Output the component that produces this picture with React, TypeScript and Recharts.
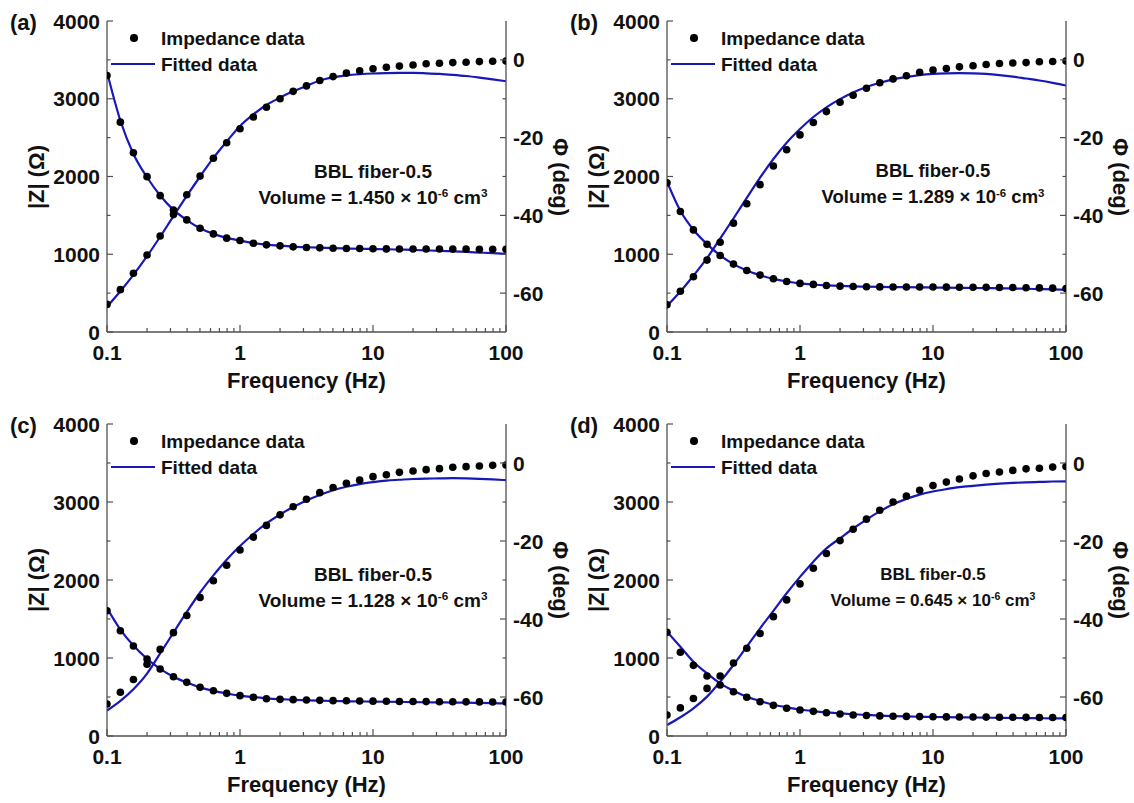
import React from "react";
import { ComposedChart, XAxis, YAxis, Scatter, Line } from "recharts";

// frequency grid, 10 points per decade (Hz)
const freq = [
  0.1, 0.126, 0.158, 0.2, 0.251, 0.316, 0.398, 0.501, 0.631, 0.794,
  1, 1.26, 1.58, 2, 2.51, 3.16, 3.98, 5.01, 6.31, 7.94,
  10, 12.6, 15.8, 20, 25.1, 31.6, 39.8, 50.1, 63.1, 79.4, 100,
];

// (a) volume 1.450
const zA = [3300, 2699, 2306, 1998, 1754, 1570, 1442, 1335, 1262, 1207, 1176, 1142, 1121, 1108, 1095, 1087, 1082, 1078, 1074, 1074, 1070, 1069, 1068, 1068, 1067, 1067, 1066, 1066, 1065, 1065, 1065];
const zFitA = [3345, 2720, 2290, 1990, 1755, 1570, 1440, 1335, 1262, 1210, 1175, 1145, 1125, 1110, 1098, 1090, 1084, 1079, 1075, 1071, 1068, 1064, 1060, 1055, 1050, 1044, 1037, 1030, 1022, 1014, 1005];
const phA = [-62.9, -59.1, -54.9, -50.2, -45.3, -39.8, -34.7, -29.9, -25.3, -21.3, -17.7, -14.7, -12.2, -10.0, -8.1, -6.7, -5.3, -4.3, -3.4, -2.8, -2.3, -1.9, -1.6, -1.3, -1.0, -0.86, -0.7, -0.6, -0.45, -0.35, -0.3];
const phFitA = [-63.5, -59.5, -55.3, -50.5, -45.5, -40.2, -35.0, -30.0, -25.2, -21.0, -17.0, -14.0, -11.6, -9.7, -8.1, -6.7, -5.3, -4.5, -4.0, -3.7, -3.5, -3.4, -3.35, -3.35, -3.45, -3.6, -3.85, -4.15, -4.55, -5.0, -5.5];

// (b) volume 1.289
const zB = [1920, 1549, 1313, 1129, 984, 873, 791, 732, 684, 650, 625, 612, 599, 590, 586, 582, 580, 579, 578, 578, 578, 577, 576, 575, 574, 573, 572, 570, 567, 564, 560];
const zFitB = [1934, 1560, 1315, 1130, 985, 873, 790, 730, 683, 650, 626, 611, 600, 592, 587, 583, 580, 578, 576, 574, 572, 570, 568, 566, 564, 562, 559, 556, 552, 548, 543];
const phB = [-63, -59.5, -55.8, -51.5, -46.9, -42.0, -37.0, -32.1, -27.3, -23.1, -19.3, -16.1, -13.3, -10.9, -9.1, -7.3, -5.9, -4.9, -4.1, -3.2, -2.6, -2.2, -1.8, -1.5, -1.2, -0.95, -0.8, -0.7, -0.5, -0.4, -0.3];
const phFitB = [-63.3, -59.6, -55.5, -51.0, -46.0, -40.8, -35.5, -30.3, -25.5, -21.3, -17.8, -14.7, -12.2, -10.1, -8.4, -7.0, -5.9, -5.0, -4.4, -3.9, -3.6, -3.45, -3.4, -3.45, -3.6, -3.9, -4.3, -4.8, -5.3, -5.9, -6.6];

// (c) volume 1.128
const zC = [1606, 1350, 1154, 987, 859, 760, 688, 624, 581, 547, 517, 496, 478, 470, 466, 461, 457, 453, 451, 448, 447, 445, 443, 442, 441, 440, 439, 438, 437, 436, 435];
const zFitC = [1640, 1365, 1160, 990, 860, 760, 685, 623, 578, 545, 518, 498, 483, 472, 464, 458, 453, 449, 446, 443, 441, 439, 437, 435, 433, 431, 429, 427, 424, 421, 418];
const phC = [-61.8, -58.8, -55.5, -51.6, -47.8, -43.5, -39.1, -34.5, -30.2, -26.2, -22.3, -19.0, -16.0, -13.3, -11.2, -9.3, -7.6, -6.3, -5.2, -4.4, -3.5, -3.0, -2.4, -2.05, -1.7, -1.45, -1.1, -0.94, -0.77, -0.6, -0.5];
const phFitC = [-63.5, -61.0, -58.0, -54.0, -48.8, -43.5, -38.2, -33.2, -28.8, -24.8, -21.3, -18.2, -15.5, -13.2, -11.3, -9.6, -8.2, -7.0, -6.1, -5.4, -4.9, -4.5, -4.3, -4.1, -4.0, -3.95, -3.9, -3.95, -4.05, -4.2, -4.4];

// (d) volume 0.645
const zD = [1330, 1073, 906, 769, 654, 568, 496, 440, 393, 355, 333, 316, 299, 282, 270, 263, 258, 254, 251, 249, 247, 245, 244, 243, 242, 241, 240, 239, 238, 238, 237];
const zFitD = [1337, 1145, 953, 803, 675, 581, 504, 449, 401, 368, 340, 320, 304, 291, 279, 270, 262, 256, 251, 247, 244, 241, 239, 237, 235, 233, 231, 230, 228, 226, 225];
const phD = [-64.6, -62.8, -60.4, -57.8, -54.6, -51.3, -47.5, -43.7, -39.4, -35.1, -31.0, -27.0, -23.2, -19.9, -17.0, -14.4, -12.1, -10.0, -8.5, -7.0, -5.8, -4.9, -4.1, -3.3, -2.7, -2.3, -1.9, -1.5, -1.35, -1.05, -0.9];
const phFitD = [-67.2, -65.2, -62.9, -59.9, -56.1, -51.8, -47.1, -42.4, -37.9, -33.4, -29.2, -25.3, -21.9, -19.3, -16.8, -14.5, -12.4, -10.6, -9.2, -8.1, -7.3, -6.7, -6.2, -5.85, -5.55, -5.3, -5.1, -4.95, -4.85, -4.75, -4.7];

// ticks
const fTicks = [0.1, 0.2, 0.3, 0.4, 0.5, 0.6, 0.7, 0.8, 0.9, 1, 2, 3, 4, 5, 6, 7, 8, 9, 10, 20, 30, 40, 50, 60, 70, 80, 90, 100];
const fMajor = [0.1, 1, 10, 100];
const zTicks = [0, 500, 1000, 1500, 2000, 2500, 3000, 3500, 4000];
const zMajor = [0, 1000, 2000, 3000, 4000];
const phTicks = [-60, -50, -40, -30, -20, -10, 0];
const phMajor = [-60, -40, -20, 0];

const FONT = '"Liberation Sans", Arial, sans-serif';
const AXIS = "#505050";
const BLUE = "#1818b8";
const CHART_W = 574;
const PLOT_LEFT = 107;
const PLOT_W = 399;

function AxisTick(props: any) {
  const { x, y, payload, side, majors, gap } = props;
  const v = Number(payload.value);
  const major = majors.some((m: number) => Math.abs(m - v) < 1e-6 * Math.max(1, Math.abs(m)));
  const len = major ? 6 : 3.5;
  const ts = { fontFamily: FONT, fontWeight: 700, fontSize: 21, fill: "#111" };
  if (side === "left") {
    const ax = x + gap;
    return (
      <g>
        <line x1={ax} x2={ax + len} y1={y} y2={y} stroke={AXIS} strokeWidth={1.2} />
        {major && <text x={x} y={y} textAnchor="end" dominantBaseline="central" style={ts}>{v}</text>}
      </g>
    );
  }
  if (side === "right") {
    const ax = x - gap;
    return (
      <g>
        <line x1={ax} x2={ax - len} y1={y} y2={y} stroke={AXIS} strokeWidth={1.2} />
        {major && <text x={x} y={y} textAnchor="start" dominantBaseline="central" style={ts}>{v}</text>}
      </g>
    );
  }
  const ay = y - gap;
  return (
    <g>
      <line x1={x} x2={x} y1={ay} y2={ay - (major ? 7 : 4)} stroke={AXIS} strokeWidth={1.2} />
      {major && <text x={x} y={y} textAnchor="middle" dominantBaseline="central" style={ts}>{v}</text>}
    </g>
  );
}

const dot = (p: any) => <circle cx={p.cx} cy={p.cy} r={3.8} fill="#000" />;

interface PanelProps {
  letter: string;
  volume: string;
  z: number[];
  zFit: number[];
  ph: number[];
  phFit: number[];
  left: number;
  top: number;
  height: number;
  marginTop: number;
  plotH: number;
  noteSize: number;
}

function Panel({ letter, volume, z, zFit, ph, phFit, left, top, height, marginTop, plotH, noteSize }: PanelProps) {
  const rows = freq.map((f, i) => ({ f, z: z[i], zFit: zFit[i], ph: ph[i], phFit: phFit[i] }));
  const plotRight = PLOT_LEFT + PLOT_W;
  const midY = marginTop + plotH / 2;
  const abs = { position: "absolute" as const, whiteSpace: "nowrap" as const, lineHeight: 1 };
  return (
    <div style={{ position: "absolute", left, top, width: CHART_W, height, fontFamily: FONT, fontWeight: 700, color: "#111" }}>
      <ComposedChart width={CHART_W} height={height} data={rows} margin={{ top: marginTop, right: 0, bottom: 0, left: 0 }}>
        <XAxis
          dataKey="f"
          type="number"
          scale="log"
          domain={[0.1, 100]}
          allowDataOverflow
          ticks={fTicks}
          interval={0}
          tickSize={0}
          tickMargin={20}
          tickLine={false}
          axisLine={{ stroke: AXIS, strokeWidth: 1.3 }}
          height={height - marginTop - plotH}
          tick={<AxisTick side="bottom" majors={fMajor} gap={20} />}
        />
        <XAxis
          xAxisId="top"
          orientation="top"
          type="number"
          scale="log"
          domain={[0.1, 100]}
          allowDataOverflow
          height={0}
          tick={false}
          tickLine={false}
          axisLine={{ stroke: AXIS, strokeWidth: 1.3 }}
        />
        <YAxis
          yAxisId="z"
          type="number"
          domain={[0, 4000]}
          allowDataOverflow
          ticks={zTicks}
          interval={0}
          width={PLOT_LEFT}
          tickSize={0}
          tickMargin={7}
          tickLine={false}
          axisLine={{ stroke: AXIS, strokeWidth: 1.3 }}
          tick={<AxisTick side="left" majors={zMajor} gap={7} />}
        />
        <YAxis
          yAxisId="ph"
          orientation="right"
          type="number"
          domain={[-70, 10]}
          allowDataOverflow
          ticks={phTicks}
          interval={0}
          width={CHART_W - plotRight}
          tickSize={0}
          tickMargin={7}
          tickLine={false}
          axisLine={{ stroke: AXIS, strokeWidth: 1.3 }}
          tick={<AxisTick side="right" majors={phMajor} gap={7} />}
        />
        <Scatter yAxisId="z" dataKey="z" shape={dot} isAnimationActive={false} />
        <Scatter yAxisId="ph" dataKey="ph" shape={dot} isAnimationActive={false} />
        <Line yAxisId="z" dataKey="zFit" type="monotone" stroke={BLUE} strokeWidth={2.2} dot={false} isAnimationActive={false} />
        <Line yAxisId="ph" dataKey="phFit" type="monotone" stroke={BLUE} strokeWidth={2.2} dot={false} isAnimationActive={false} />
      </ComposedChart>

      {/* panel letter */}
      <div style={{ ...abs, left: 10, top: marginTop + 2, fontSize: 22, transform: "translateY(-50%)" }}>({letter})</div>

      {/* axis titles */}
      <div style={{ ...abs, left: 37, top: midY, fontSize: 22, transform: "translate(-50%,-50%) rotate(-90deg)" }}>|Z| (Ω)</div>
      <div style={{ ...abs, left: plotRight + 54, top: midY, fontSize: 22, transform: "translate(-50%,-50%) rotate(90deg)" }}>Φ (deg)</div>
      <div style={{ ...abs, left: PLOT_LEFT + PLOT_W / 2, top: marginTop + plotH + 49, fontSize: 22, transform: "translate(-50%,-50%)" }}>Frequency (Hz)</div>

      {/* legend */}
      <div style={{ position: "absolute", left: PLOT_LEFT + 27 - 3.8, top: marginTop + 17 - 3.8, width: 7.6, height: 7.6, borderRadius: "50%", background: "#000" }} />
      <div style={{ ...abs, left: PLOT_LEFT + 54, top: marginTop + 17, fontSize: 19, transform: "translateY(-50%)" }}>Impedance data</div>
      <div style={{ position: "absolute", left: PLOT_LEFT + 4, top: marginTop + 42, width: 44, height: 2.2, background: BLUE }} />
      <div style={{ ...abs, left: PLOT_LEFT + 54, top: marginTop + 43, fontSize: 19, transform: "translateY(-50%)" }}>Fitted data</div>

      {/* annotation */}
      <div style={{ ...abs, left: PLOT_LEFT + 266, top: marginTop + 150, fontSize: noteSize, transform: "translate(-50%,-50%)" }}>BBL fiber-0.5</div>
      <div style={{ ...abs, left: PLOT_LEFT + 266, top: marginTop + 176, fontSize: noteSize, transform: "translate(-50%,-50%)" }}>
        Volume = {volume} × 10<sup style={{ fontSize: "0.62em", verticalAlign: "0.55em" }}>-6</sup> cm<sup style={{ fontSize: "0.62em", verticalAlign: "0.55em" }}>3</sup>
      </div>
    </div>
  );
}

export default function App() {
  return (
    <div style={{ position: "absolute", left: 0, top: 0, width: 1134, height: 803, background: "#fff" }}>
      <Panel letter="a" volume="1.450" z={zA} zFit={zFitA} ph={phA} phFit={phFitA} left={0} top={0} height={400} marginTop={21} plotH={311} noteSize={19} />
      <Panel letter="b" volume="1.289" z={zB} zFit={zFitB} ph={phB} phFit={phFitB} left={560} top={0} height={400} marginTop={21} plotH={311} noteSize={18.5} />
      <Panel letter="c" volume="1.128" z={zC} zFit={zFitC} ph={phC} phFit={phFitC} left={0} top={400} height={403} marginTop={24} plotH={312} noteSize={19} />
      <Panel letter="d" volume="0.645" z={zD} zFit={zFitD} ph={phD} phFit={phFitD} left={560} top={400} height={403} marginTop={24} plotH={312} noteSize={17} />
    </div>
  );
}
